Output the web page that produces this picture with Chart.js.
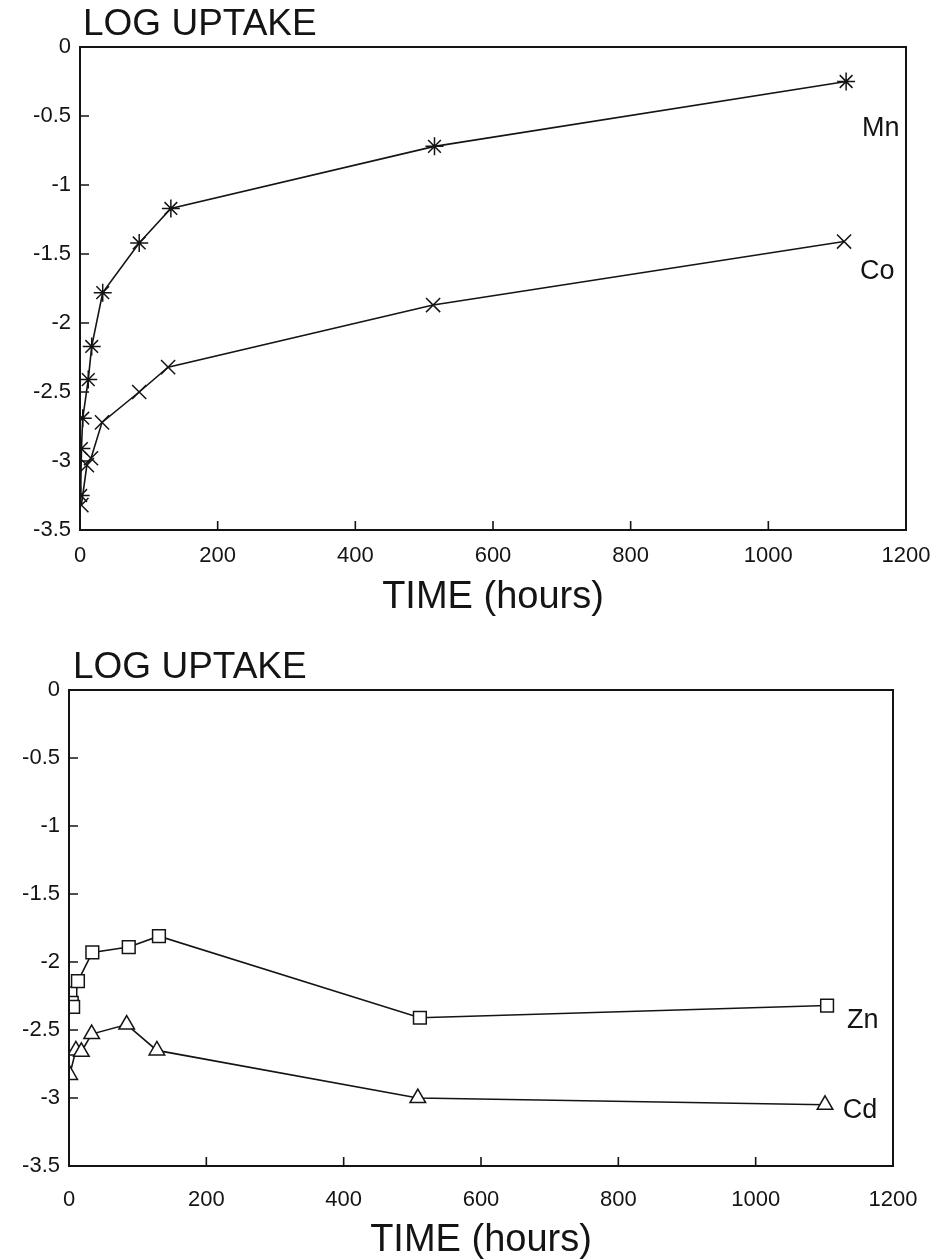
<!DOCTYPE html>
<html>
<head>
<meta charset="utf-8">
<title>Log uptake vs time</title>
<script src="https://cdn.jsdelivr.net/npm/chart.js@4.4.1/dist/chart.umd.min.js"></script>
<style>
  html, body { margin: 0; padding: 0; background: #ffffff; }
  .panel { position: absolute; left: 0; width: 930px; height: 630px; }
  #panelA { top: 0; }
  #panelB { top: 630px; }
</style>
</head>
<body>
<div class="panel" id="panelA"><canvas id="chartA" width="930" height="630"></canvas></div>
<div class="panel" id="panelB"><canvas id="chartB" width="930" height="630"></canvas></div>
<script>
// Sampling times (hours) and log uptake for each metal
const mnHours = [1, 2, 4, 12, 17, 33, 86, 132, 515, 1113];
const mnLog   = [-3.25, -2.91, -2.69, -2.41, -2.17, -1.78, -1.42, -1.17, -0.72, -0.25];
const coHours = [2, 10, 16, 32, 86, 128, 513, 1110];
const coLog   = [-3.32, -3.03, -2.98, -2.72, -2.50, -2.32, -1.87, -1.41];

const znHours = [2, 4, 6, 13, 34, 87, 131, 511, 1104];
const znLog   = [-2.23, -2.30, -2.33, -2.14, -1.93, -1.89, -1.81, -2.41, -2.32];
const cdHours = [1, 10, 18, 33, 84, 128, 508, 1101];
const cdLog   = [-2.83, -2.65, -2.66, -2.53, -2.46, -2.65, -3.00, -3.05];

// Axis ticks
const hourTicks = [0, 200, 400, 600, 800, 1000, 1200];
const logTicks  = [0, -0.5, -1, -1.5, -2, -2.5, -3, -3.5];

// Text
const yHeading = 'LOG UPTAKE';
const xHeading = 'TIME (hours)';

const INK = '#141414';
const FONT = '"Liberation Sans", Arial, Helvetica, sans-serif';
Chart.defaults.font.family = FONT;
Chart.defaults.color = INK;

function pairs(xs, ys) {
  return xs.map((x, i) => ({ x: x, y: ys[i] }));
}

// Frame, inward tick marks, heading and series names
const paperPlot = {
  id: 'paperPlot',
  afterDatasetsDraw(chart, args, opts) {
    const ctx = chart.ctx;
    const a = chart.chartArea;
    const xs = chart.scales.x, ys = chart.scales.y;
    ctx.save();
    ctx.strokeStyle = INK;
    ctx.lineWidth = 2;
    ctx.strokeRect(a.left, a.top, a.right - a.left, a.bottom - a.top);
    ctx.lineWidth = 1.6;
    ctx.beginPath();
    hourTicks.slice(1, -1).forEach(v => {
      const px = xs.getPixelForValue(v);
      ctx.moveTo(px, a.bottom);
      ctx.lineTo(px, a.bottom - 9);
    });
    logTicks.slice(1, -1).forEach(v => {
      const py = ys.getPixelForValue(v);
      ctx.moveTo(a.left, py);
      ctx.lineTo(a.left + 9, py);
    });
    ctx.stroke();

    ctx.fillStyle = INK;
    ctx.textBaseline = 'middle';
    ctx.textAlign = 'left';
    ctx.font = '37px ' + FONT;
    ctx.fillText(yHeading, a.left + opts.headingDx, a.top - opts.headingDy);

    ctx.font = '27px ' + FONT;
    opts.names.forEach(n => {
      ctx.fillText(n.text, xs.getPixelForValue(n.x), ys.getPixelForValue(n.y));
    });
    ctx.restore();
  }
};

function makeOptions(area, tickPad, titlePadBottom, names, headingDx, headingDy) {
  return {
    responsive: false,
    animation: false,
    devicePixelRatio: 1,
    layout: { padding: { top: area.top, right: 930 - area.right, left: 0, bottom: 0 } },
    plugins: {
      legend: { display: false },
      tooltip: { enabled: false },
      paperPlot: { names: names, headingDx: headingDx, headingDy: headingDy }
    },
    elements: { line: { tension: 0 } },
    scales: {
      x: {
        type: 'linear',
        min: hourTicks[0],
        max: hourTicks[hourTicks.length - 1],
        afterBuildTicks: s => { s.ticks = hourTicks.map(v => ({ value: v })); },
        ticks: {
          font: { size: 22 }, color: INK, padding: tickPad, maxRotation: 0, autoSkip: false,
          callback: v => String(v)
        },
        grid: { display: false, drawTicks: false },
        border: { display: false },
        title: {
          display: true, text: xHeading, color: INK,
          font: { size: 38, lineHeight: 1 },
          padding: { top: 0, bottom: titlePadBottom }
        },
        afterFit: s => {
          s.height = 630 - area.bottom;
          s.paddingLeft = 0;
          s.paddingRight = 0;
        }
      },
      y: {
        type: 'linear',
        min: logTicks[logTicks.length - 1],
        max: logTicks[0],
        afterBuildTicks: s => { s.ticks = logTicks.slice().reverse().map(v => ({ value: v })); },
        ticks: {
          font: { size: 22 }, color: INK, padding: 9, autoSkip: false,
          callback: v => String(v)
        },
        grid: { display: false, drawTicks: false },
        border: { display: false },
        afterFit: s => {
          s.width = area.left;
          s.paddingTop = 0;
          s.paddingBottom = 0;
        }
      }
    }
  };
}

function series(label, xs, ys, style, radius) {
  const filled = style === 'rect' || style === 'triangle';
  return {
    label: label,
    data: pairs(xs, ys),
    borderColor: INK,
    borderWidth: 1.6,
    pointStyle: style,
    pointRadius: radius,
    pointBorderWidth: 1.5,
    pointBorderColor: INK,
    pointBackgroundColor: filled ? '#ffffff' : INK,
    fill: false
  };
}

new Chart(document.getElementById('chartA'), {
  type: 'line',
  data: {
    datasets: [
      series('Mn', mnHours, mnLog, 'star', 9),
      series('Co', coHours, coLog, 'crossRot', 10)
    ]
  },
  options: makeOptions(
    { left: 80, right: 906, top: 47, bottom: 530 }, 13, 13,
    [{ text: 'Mn', x: 1136, y: -0.59 }, { text: 'Co', x: 1133, y: -1.63 }],
    3, 22
  ),
  plugins: [paperPlot]
});

new Chart(document.getElementById('chartB'), {
  type: 'line',
  data: {
    datasets: [
      series('Zn', znHours, znLog, 'rect', 9),
      series('Cd', cdHours, cdLog, 'triangle', 9)
    ]
  },
  options: makeOptions(
    { left: 69, right: 893, top: 60, bottom: 536 }, 21, 0,
    [{ text: 'Zn', x: 1133, y: -2.43 }, { text: 'Cd', x: 1127, y: -3.09 }],
    4, 22
  ),
  plugins: [paperPlot]
});
</script>
</body>
</html>
